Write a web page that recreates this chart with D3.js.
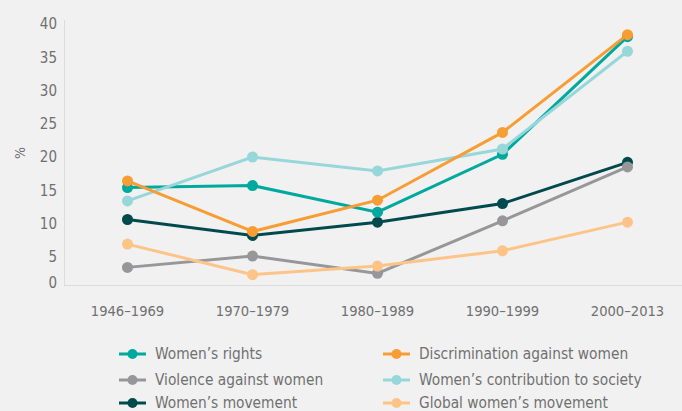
<!DOCTYPE html>
<html>
<head>
<meta charset="utf-8">
<script src="https://cdn.jsdelivr.net/npm/d3@7"></script>
<style>
  html, body { margin: 0; padding: 0; background: #f1f1f1; }
  text { font-family: "DejaVu Sans Condensed", "Liberation Sans Narrow", sans-serif; fill: #707070; }
</style>
</head>
<body>
<div id="canvas"></div>
<script>
const periods = ["1946–1969", "1970–1979", "1980–1989", "1990–1999", "2000–2013"];
const yTicks = [0, 5, 10, 15, 20, 25, 30, 35, 40];

const womensRights = [14.8, 15.1, 11.1, 19.8, 37.5];
const discrimination = [15.8, 8.2, 12.9, 23.1, 37.8];
const violence = [2.8, 4.5, 1.9, 9.8, 17.9];
const contribution = [12.8, 19.4, 17.3, 20.6, 35.3];
const movement = [10.0, 7.6, 9.6, 12.4, 18.6];
const globalMovement = [6.3, 1.7, 3.0, 5.3, 9.6];

const seriesNames = ["Women’s rights", "Discrimination against women", "Violence against women",
  "Women’s contribution to society", "Women’s movement", "Global women’s movement"];
const seriesColors = ["#00a99d", "#f89c34", "#97979a", "#97d7da", "#004a4e", "#fec487"];
const seriesValues = [womensRights, discrimination, violence, contribution, movement, globalMovement];
// draw order, back to front
const drawOrder = [4, 2, 5, 0, 3, 1];

const width = 682, height = 411;
const svg = d3.select("#canvas").append("svg")
  .attr("width", width).attr("height", height);

const x = d3.scalePoint().domain(periods).range([65, 690]).padding(0.5);
const y = d3.scaleLinear().domain([0, 40]).range([286, 20]);

// axis lines
svg.append("line").attr("x1", 64.5).attr("x2", 64.5).attr("y1", 20).attr("y2", 286)
  .attr("stroke", "#dcdcdc");
svg.append("line").attr("x1", 64).attr("x2", 682).attr("y1", 285.5).attr("y2", 285.5)
  .attr("stroke", "#dcdcdc");

// y tick labels
svg.append("g").selectAll("text").data(yTicks).enter().append("text")
  .attr("x", 57).attr("y", d => d === 0 ? y(d) - 3 : y(d) + 4)
  .attr("dy", "0.35em").attr("text-anchor", "end")
  .style("font-size", "15px").text(d => d);

svg.append("text").attr("transform", "translate(20,153) rotate(-90)")
  .attr("text-anchor", "middle").attr("dy", "0.35em")
  .style("font-size", "14px").text("%");

// x tick labels
svg.append("g").selectAll("text").data(periods).enter().append("text")
  .attr("x", d => x(d)).attr("y", 311).attr("dy", "0.35em")
  .attr("text-anchor", "middle").style("font-size", "14.6px").text(d => d);

const line = d3.line().x((d, i) => x(periods[i])).y(d => y(d));

drawOrder.forEach(k => {
  const g = svg.append("g");
  g.append("path").datum(seriesValues[k]).attr("d", line)
    .attr("fill", "none").attr("stroke", seriesColors[k]).attr("stroke-width", 3);
  g.selectAll("circle").data(seriesValues[k]).enter().append("circle")
    .attr("cx", (d, i) => x(periods[i])).attr("cy", d => y(d)).attr("r", 5.5)
    .attr("fill", seriesColors[k]);
});

// legend
const legend = svg.append("g");
seriesNames.forEach((name, i) => {
  const col = i % 2, row = Math.floor(i / 2);
  const lx = col === 0 ? 119 : 383;
  const ly = [354, 380, 403][row];
  const item = legend.append("g").attr("transform", `translate(${lx},${ly})`);
  item.append("line").attr("x1", 0).attr("x2", 27).attr("y1", 0).attr("y2", 0)
    .attr("stroke", seriesColors[i]).attr("stroke-width", 3);
  item.append("circle").attr("cx", 13.5).attr("cy", 0).attr("r", 5).attr("fill", seriesColors[i]);
  item.append("text").attr("x", 36).attr("y", 0).attr("dy", "0.35em")
    .style("font-size", "15.3px").text(name);
});
</script>
</body>
</html>
